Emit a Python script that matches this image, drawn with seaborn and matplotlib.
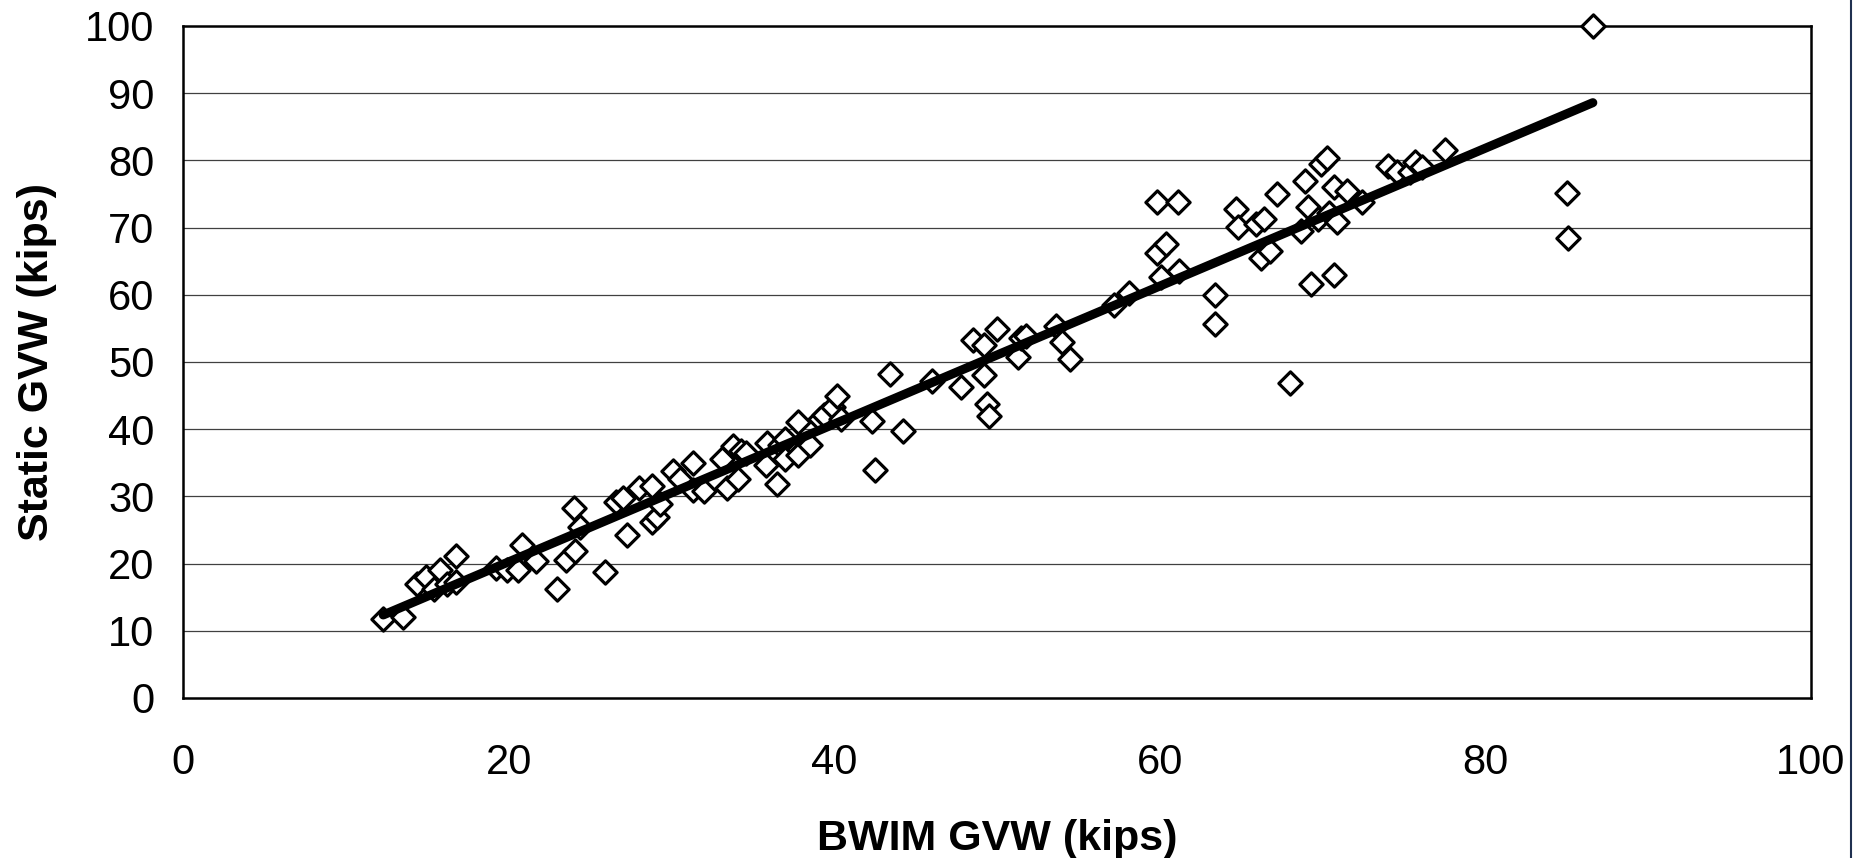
import matplotlib
matplotlib.use("Agg")
import matplotlib.pyplot as plt
import seaborn as sns
import pandas as pd
from matplotlib.lines import Line2D

# values (kips)
bwim_gvw = [12.3, 13.5, 14.4, 14.9, 15.4, 15.8, 16.2, 16.8, 16.8, 19.2,
            19.9, 20.6, 20.8, 21.7, 23.0, 23.5, 24.0, 24.1, 24.4, 25.9,
            26.6, 27.0, 27.3, 28.0, 28.8, 28.8, 29.1, 29.3, 30.1, 30.5,
            31.3, 31.3, 32.0, 33.1, 33.4, 33.8, 34.1, 34.3, 34.6, 35.8,
            35.9, 36.5, 36.7, 37.0, 37.0, 37.8, 37.8, 38.5, 39.1, 39.4,
            39.9, 40.2, 40.4, 42.3, 42.5, 43.4, 44.2, 46.0, 47.8, 48.5,
            49.2, 49.2, 49.4, 49.5, 50.0, 51.3, 51.5, 51.8, 53.6, 54.0,
            54.5, 57.2, 58.1, 59.8, 59.8, 60.1, 60.4, 61.1, 61.2, 63.4,
            63.4, 64.7, 64.8, 65.9, 66.2, 66.4, 66.8, 67.2, 68.0, 68.7,
            68.9, 69.1, 69.3, 69.7, 69.9, 70.3, 70.4, 70.7, 70.7, 70.9,
            71.5, 72.4, 74.0, 74.6, 75.4, 75.7, 76.1, 77.5, 85.0, 85.1,
            86.6]
static_gvw = [11.8, 12.0, 16.9, 18.0, 16.2, 19.0, 16.9, 21.1, 17.3, 19.4,
              19.0, 19.0, 22.7, 20.4, 16.2, 20.6, 28.3, 21.8, 25.4, 18.7,
              29.2, 29.8, 24.3, 31.2, 31.5, 26.2, 26.9, 28.9, 33.8, 32.6,
              34.9, 31.0, 30.8, 35.6, 31.3, 37.5, 32.6, 36.8, 36.4, 34.7,
              38.0, 31.9, 37.7, 38.6, 35.6, 41.0, 36.1, 37.7, 41.5, 42.1,
              43.3, 44.9, 41.5, 41.2, 34.0, 48.2, 39.8, 47.2, 46.3, 53.3,
              52.6, 48.1, 43.8, 41.9, 54.9, 50.7, 53.5, 53.9, 55.3, 53.0,
              50.5, 58.5, 60.2, 73.8, 66.2, 62.7, 67.6, 73.8, 63.6, 59.9,
              55.6, 72.7, 70.1, 70.6, 65.5, 71.3, 66.5, 75.0, 46.8, 69.5,
              76.9, 73.1, 61.6, 71.3, 79.4, 80.3, 72.2, 76.1, 63.0, 70.8,
              75.5, 73.8, 79.2, 78.2, 78.3, 79.8, 79.0, 81.5, 75.2, 68.5,
              100.0]
x_ticks = [0, 20, 40, 60, 80, 100]
y_ticks = [0, 10, 20, 30, 40, 50, 60, 70, 80, 90, 100]

df = pd.DataFrame({'BWIM': bwim_gvw, 'Static': static_gvw})

sns.set_style('white')
plt.rcParams['font.family'] = ['Liberation Sans', 'DejaVu Sans']
plt.rcParams['text.color'] = 'black'
plt.rcParams['axes.labelcolor'] = 'black'
plt.rcParams['xtick.color'] = 'black'
plt.rcParams['ytick.color'] = 'black'

fig = plt.figure(figsize=(18.54, 8.58), dpi=100)
ax = fig.add_axes([0.0987, 0.1865, 0.8781, 0.7832])

# grid lines
for v in y_ticks[1:-1]:
    ax.axhline(v, color='#404040', lw=0.9, zorder=0)

sns.scatterplot(data=df, x='BWIM', y='Static', ax=ax, marker='D', s=140,
                facecolor='white', edgecolor='black', linewidth=2.3,
                clip_on=False, zorder=3, legend=False)
sns.regplot(data=df, x='BWIM', y='Static', ax=ax, scatter=False, ci=None,
            line_kws={'color': 'black', 'lw': 6.5, 'solid_capstyle': 'round',
                      'zorder': 4})

ax.set_xlim(0, 100)
ax.set_ylim(0, 100)
ax.set_xticks(x_ticks)
ax.set_yticks(y_ticks)
ax.tick_params(axis='both', which='major', direction='out', length=8.5,
               width=0.8, color='black', labelcolor='black', labelsize=30)
ax.tick_params(axis='x', pad=24)
ax.tick_params(axis='y', pad=12)
for side in ['left', 'bottom', 'top', 'right']:
    ax.spines[side].set_visible(True)
    ax.spines[side].set_color('black')
    ax.spines[side].set_linewidth(1.8)

ax.set_xlabel('BWIM GVW (kips)', fontsize=31, fontweight='bold', labelpad=26)
ax.set_ylabel('Static GVW (kips)', fontsize=31, fontweight='bold', labelpad=20)

# chart area border on the right edge
fig.add_artist(Line2D([0.9985, 0.9985], [0, 1], transform=fig.transFigure,
                      color='#203050', lw=1.5))

fig.savefig('out.png', dpi=100)
